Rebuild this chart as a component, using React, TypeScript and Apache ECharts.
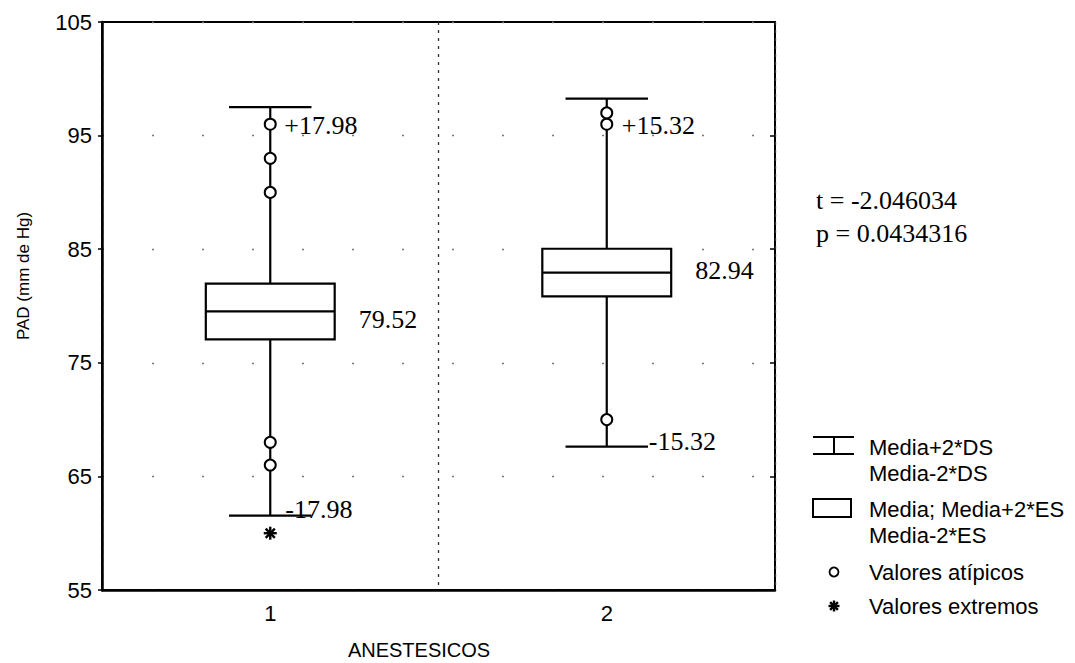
import React, { useEffect, useRef } from "react";
import * as echarts from "echarts";

// ---- data ----
const categories = ["1", "2"];
const means = [79.52, 82.94];
const twoSD = [17.98, 15.32];
const twoSE = [2.45, 2.1];
const outlierGroup = [0, 0, 0, 0, 0, 1, 1, 1];
const outlierValues = [96, 93, 90, 68, 66, 97, 96, 70];
const extremeGroup = [0];
const extremeValues = [60];
const yTicks = { min: 55, max: 105, step: 10 };
const statLines = ["t = -2.046034", "p = 0.0434316"];
const legendLabels = [
  "Media+2*DS",
  "Media-2*DS",
  "Media; Media+2*ES",
  "Media-2*ES",
  "Valores atípicos",
  "Valores extremos",
];

// ---- label nudges (styling only) ----
const plusDx = [14, 15];
const plusDy = [18, 27];
const minusDx = [15, 42];
const minusDy = [-6, -5];
const meanDy = [8, -2];

const SANS = "Liberation Sans, Arial, sans-serif";
const SERIF = "Liberation Serif, Times New Roman, serif";

function App() {
  const ref = useRef<HTMLDivElement>(null);

  useEffect(() => {
    if (!ref.current) return;
    const chart = echarts.init(ref.current, undefined, { renderer: "svg" });

    const boxData = means.map((m, i) => [i, m, twoSD[i], twoSE[i]]);
    const outlierData = outlierValues.map((v, i) => [outlierGroup[i], v]);
    const extremeData = extremeValues.map((v, i) => [extremeGroup[i], v]);

    const lineStyle = { stroke: "#000", lineWidth: 2.2 };

    const renderBox = (params: any, api: any) => {
      const i = api.value(0);
      const mean = api.value(1);
      const sd = api.value(2);
      const se = api.value(3);
      const c = api.coord([i, mean]);
      const top = api.coord([i, mean + sd]);
      const bot = api.coord([i, mean - sd]);
      const bTop = api.coord([i, mean + se]);
      const bBot = api.coord([i, mean - se]);
      const unit = api.size([1, 0])[0];
      const boxW = unit * 0.383;
      const capW = unit * 0.245;
      const x = c[0];
      const font = `26px ${SERIF}`;
      return {
        type: "group",
        children: [
          { type: "line", shape: { x1: x, y1: top[1], x2: x, y2: bTop[1] }, style: lineStyle },
          { type: "line", shape: { x1: x, y1: bBot[1], x2: x, y2: bot[1] }, style: lineStyle },
          { type: "line", shape: { x1: x - capW / 2, y1: top[1], x2: x + capW / 2, y2: top[1] }, style: lineStyle },
          { type: "line", shape: { x1: x - capW / 2, y1: bot[1], x2: x + capW / 2, y2: bot[1] }, style: lineStyle },
          {
            type: "rect",
            shape: { x: x - boxW / 2, y: bTop[1], width: boxW, height: bBot[1] - bTop[1] },
            style: { fill: "#fff", stroke: "#000", lineWidth: 2.2 },
          },
          { type: "line", shape: { x1: x - boxW / 2, y1: c[1], x2: x + boxW / 2, y2: c[1] }, style: lineStyle },
          {
            type: "text",
            z2: 10,
            style: {
              text: "+" + sd.toFixed(2),
              x: x + plusDx[i],
              y: top[1] + plusDy[i],
              align: "left",
              verticalAlign: "middle",
              font,
              fill: "#000",
            },
          },
          {
            type: "text",
            z2: 10,
            style: {
              text: "-" + sd.toFixed(2),
              x: x + minusDx[i],
              y: bot[1] + minusDy[i],
              align: "left",
              verticalAlign: "middle",
              font,
              fill: "#000",
            },
          },
          {
            type: "text",
            z2: 10,
            style: {
              text: mean.toFixed(2),
              x: x + boxW / 2 + 24,
              y: c[1] + meanDy[i],
              align: "left",
              verticalAlign: "middle",
              font,
              fill: "#000",
            },
          },
        ],
      };
    };

    const starLines = (cx: number, cy: number, r: number, w: number) => {
      const d = r * Math.SQRT1_2;
      const st = { stroke: "#000", lineWidth: w };
      return [
        { type: "line", shape: { x1: cx - r, y1: cy, x2: cx + r, y2: cy }, style: st },
        { type: "line", shape: { x1: cx, y1: cy - r, x2: cx, y2: cy + r }, style: st },
        { type: "line", shape: { x1: cx - d, y1: cy - d, x2: cx + d, y2: cy + d }, style: st },
        { type: "line", shape: { x1: cx - d, y1: cy + d, x2: cx + d, y2: cy - d }, style: st },
      ];
    };

    const renderStar = (params: any, api: any) => {
      const p = api.coord([api.value(0), api.value(1)]);
      return { type: "group", children: starLines(p[0], p[1], 6.5, 2.4) };
    };

    const lx = 869;
    const legendY = [447, 473, 509, 535, 572, 606];
    const legendText = legendLabels.map((t, k) => ({
      type: "text",
      x: lx,
      y: legendY[k],
      style: {
        text: t,
        font: `22px ${SANS}`,
        fill: "#000",
        align: "left",
        verticalAlign: "middle",
        textAlign: "left",
        textVerticalAlign: "middle",
      },
    }));

    const gl = { stroke: "#000", lineWidth: 2 };

    chart.setOption({
      animation: false,
      backgroundColor: "#fff",
      grid: {
        left: 102,
        right: 300,
        top: 22,
        bottom: 73,
        show: true,
        borderColor: "#000",
        borderWidth: 2,
        backgroundColor: "transparent",
      },
      xAxis: {
        type: "category",
        data: categories,
        boundaryGap: true,
        axisLine: { show: true, lineStyle: { color: "#000", width: 2.5 } },
        axisTick: { show: false },
        axisLabel: {
          color: "#000",
          fontSize: 22,
          fontFamily: SANS,
          margin: 12,
        },
        splitLine: {
          show: true,
          lineStyle: { color: "#333", width: 1.3, type: [3, 5] },
        },
      },
      yAxis: [
        {
          type: "value",
          min: yTicks.min,
          max: yTicks.max,
          interval: yTicks.step,
          axisLine: { show: true, lineStyle: { color: "#000", width: 2.5 } },
          axisTick: { show: true, inside: false, length: 4, lineStyle: { color: "#000", width: 1.5 } },
          axisLabel: { color: "#000", fontSize: 22, fontFamily: SANS, margin: 10 },
          splitLine: {
            show: true,
            lineStyle: { color: "#777", width: 1.4, type: [2, 48] },
          },
        },
        {
          type: "value",
          position: "right",
          min: yTicks.min,
          max: yTicks.max,
          interval: yTicks.step,
          axisLine: { show: false },
          axisTick: { show: true, inside: true, length: 5, lineStyle: { color: "#000", width: 1.5 } },
          axisLabel: { show: false },
          splitLine: { show: false },
        },
      ],
      series: [
        {
          type: "custom",
          name: "box",
          renderItem: renderBox,
          data: boxData,
          encode: { x: 0, y: 1 },
          z: 2,
          silent: true,
        },
        {
          type: "scatter",
          name: "Valores atípicos",
          data: outlierData,
          symbol: "circle",
          symbolSize: 11,
          itemStyle: { color: "#fff", borderColor: "#000", borderWidth: 2, opacity: 1 },
          z: 5,
          silent: true,
        },
        {
          type: "custom",
          name: "Valores extremos",
          renderItem: renderStar,
          data: extremeData,
          encode: { x: 0, y: 1 },
          z: 5,
          silent: true,
        },
      ],
      graphic: [
        {
          type: "text",
          x: 23,
          y: 276,
          rotation: Math.PI / 2,
          style: {
            text: "PAD (mm de Hg)",
            font: `17px ${SANS}`,
            fill: "#000",
            align: "center",
            verticalAlign: "middle",
            textAlign: "center",
            textVerticalAlign: "middle",
          },
        },
        {
          type: "text",
          x: 419,
          y: 650,
          style: {
            text: "ANESTESICOS",
            font: `20px ${SANS}`,
            fill: "#000",
            align: "center",
            verticalAlign: "middle",
            textAlign: "center",
            textVerticalAlign: "middle",
          },
        },
        ...statLines.map((t, k) => ({
          type: "text",
          x: 816,
          y: 200 + k * 33,
          style: {
            text: t,
            font: `26px ${SERIF}`,
            fill: "#000",
            align: "left",
            verticalAlign: "middle",
            textAlign: "left",
            textVerticalAlign: "middle",
          },
        })),
        // legend symbols
        { type: "line", shape: { x1: 813, y1: 437, x2: 854, y2: 437 }, style: gl },
        { type: "line", shape: { x1: 834, y1: 437, x2: 834, y2: 454 }, style: gl },
        { type: "line", shape: { x1: 813, y1: 454, x2: 854, y2: 454 }, style: gl },
        {
          type: "rect",
          shape: { x: 813, y: 499, width: 38, height: 18 },
          style: { fill: "#fff", stroke: "#000", lineWidth: 2 },
        },
        {
          type: "circle",
          shape: { cx: 834, cy: 572, r: 4.5 },
          style: { fill: "#fff", stroke: "#000", lineWidth: 1.8 },
        },
        { type: "group", children: starLines(834, 606, 5.5, 2.4) },
        ...legendText,
      ],
    });

    return () => chart.dispose();
  }, []);

  return (
    <div
      ref={ref}
      style={{ position: "fixed", left: 0, top: 0, width: 1075, height: 663, background: "#fff" }}
    />
  );
}

export default App;
